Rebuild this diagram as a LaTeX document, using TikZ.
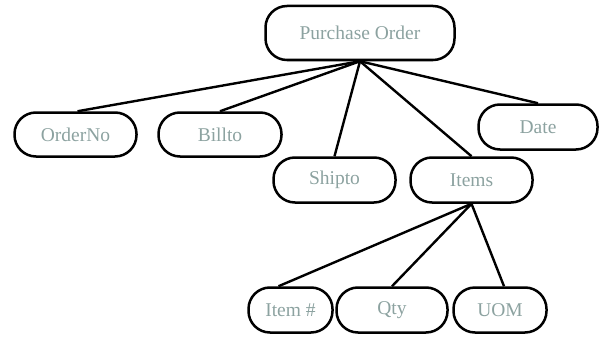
\documentclass[tikz,border=0pt]{standalone}
\usepackage{fontspec}
\setmainfont{Liberation Serif}
\definecolor{lbl}{RGB}{140,162,160}
\begin{document}
\begin{tikzpicture}[x=1pt,y=-1pt,
  pill/.style={draw=black, line width=2.5pt, rounded corners=21.5pt, inner sep=0pt,
    text=lbl, font=\fontsize{19.5}{21}\selectfont},
  link/.style={draw=black, line width=2.4pt}]
\useasboundingbox (0,0) rectangle (599,337);
\node[pill, minimum width=189pt, minimum height=54pt] (po) at (360,33) {Purchase Order};
\node[pill, minimum width=122pt, minimum height=44pt] (ord) at (75.5,134.5) {OrderNo};
\node[pill, minimum width=123pt, minimum height=44pt] (bill) at (220,134.5) {Billto};
\node[pill, minimum width=122pt, minimum height=45pt] (ship) at (334.5,180) {Shipto};
\node[pill, minimum width=122pt, minimum height=45pt] (items) at (471.5,180) {Items};
\node[pill, minimum width=119pt, minimum height=45pt] (date) at (538,127) {Date};
\node[pill, minimum width=84pt, minimum height=45pt] (itemno) at (290.5,310) {Item \#};
\node[pill, minimum width=111pt, minimum height=45pt] (qty) at (392,310) {Qty};
\node[pill, minimum width=93pt, minimum height=45pt] (uom) at (500,310) {UOM};
\draw[link] (po.south) -- ([xshift=2pt]ord.north);
\draw[link] (po.south) -- (bill.north);
\draw[link] (po.south) -- (ship.north);
\draw[link] (po.south) -- (items.north);
\draw[link] (po.south) -- (date.north);
\draw[link] (items.south) -- ([xshift=-12pt]itemno.north);
\draw[link] (items.south) -- (qty.north);
\draw[link] (items.south) -- ([xshift=4pt]uom.north);
\end{tikzpicture}
\end{document}
